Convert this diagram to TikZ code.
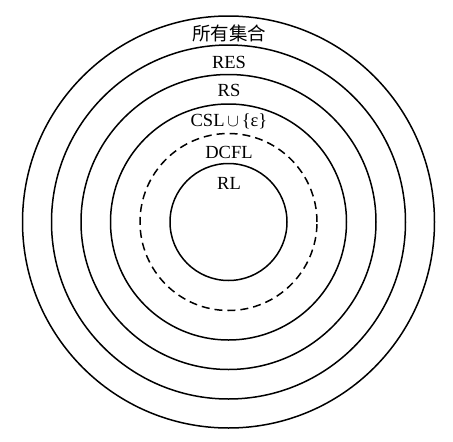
\documentclass[tikz,border=0pt]{standalone}
\usepackage{fontspec}
\setmainfont{Liberation Serif}
\newfontfamily\cjk{Noto Sans CJK SC}
\begin{document}
\begin{tikzpicture}[x=1pt,y=1pt,
  ring/.style={draw, circle, line width=1.5pt, inner sep=0pt},
  lbl/.style={font=\fontsize{18.5}{20}\selectfont, inner sep=0pt}]
\useasboundingbox (0,0) rectangle (453,-442);
\coordinate (c) at (228.5,-222);
\node[ring, minimum size=412pt] (all) at (c) {};
\node[ring, minimum size=354pt] (res) at (c) {};
\node[ring, minimum size=295pt] (rs) at (c) {};
\node[ring, minimum size=236pt] (csl) at (c) {};
\node[ring, dash pattern=on 8pt off 5pt, minimum size=177pt] (dcfl) at (c) {};
\node[ring, minimum size=117pt] (rl) at (c) {};
\node[lbl] (tall) at (229,-33) {\cjk 所有集合};
\node[lbl] (tres) at (229,-62) {RES};
\node[lbl] (trs) at (229,-90) {RS};
\node[lbl] (tcsl) at (229,-121) {CSL$\,\cup\,$\{ε\}};
\node[lbl] (tdcfl) at (229,-152) {DCFL};
\node[lbl] (trl) at (229,-183) {RL};
\end{tikzpicture}
\end{document}
